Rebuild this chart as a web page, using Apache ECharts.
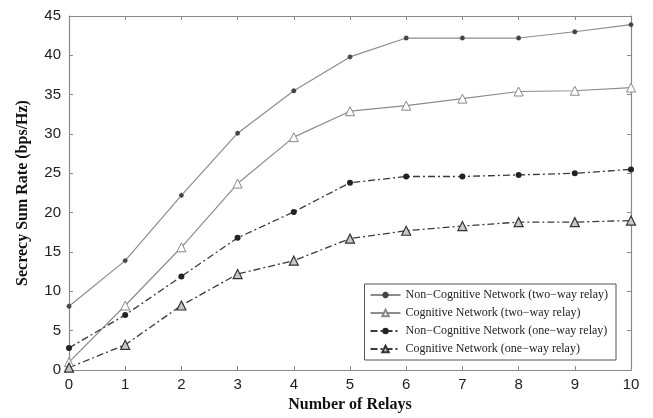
<!DOCTYPE html>
<html>
<head>
<meta charset="utf-8">
<script src="https://cdn.jsdelivr.net/npm/echarts@6/dist/echarts.min.js"></script>
<style>
  html, body { margin: 0; padding: 0; background: #fff; }
  #chart { width: 653px; height: 418px; }
</style>
</head>
<body>
<div id="chart"></div>
<script>
const relays = [0, 1, 2, 3, 4, 5, 6, 7, 8, 9, 10];
const nonCogTwoWay = [8.1, 13.9, 22.2, 30.1, 35.5, 39.8, 42.2, 42.2, 42.2, 43.0, 43.9];
const cogTwoWay = [1.0, 8.2, 15.6, 23.7, 29.6, 32.9, 33.6, 34.5, 35.4, 35.5, 35.9];
const nonCogOneWay = [2.8, 7.0, 11.9, 16.8, 20.1, 23.8, 24.6, 24.6, 24.8, 25.0, 25.5];
const cogOneWay = [0.3, 3.2, 8.2, 12.2, 13.9, 16.7, 17.7, 18.3, 18.8, 18.8, 19.0];
const seriesNames = [
    'Non\u2212Cognitive Network (two\u2212way relay)',
    'Cognitive Network (two\u2212way relay)',
    'Non\u2212Cognitive Network (one\u2212way relay)',
    'Cognitive Network (one\u2212way relay)'
];

const pairs = (ys) => relays.map((x, i) => [x, ys[i]]);
const dashDot = [7, 3, 2, 3];
const star = 'path://M0,5L10,5M5,0L5,10M1.5,1.5L8.5,8.5M8.5,1.5L1.5,8.5';
const axisGray = '#8a8a8a';
const serif = 'Liberation Serif, Times New Roman, serif';

const chart = echarts.init(document.getElementById('chart'));
chart.setOption({
    animation: false,
    textStyle: {fontFamily: 'Liberation Sans, Arial, sans-serif'},
    grid: {left: 69, right: 22, top: 16, bottom: 47},
    legend: {
        right: 37,
        top: 284,
        orient: 'vertical',
        itemGap: 4,
        itemWidth: 30,
        itemHeight: 8,
        padding: [4, 8, 4, 5],
        borderColor: '#555',
        borderWidth: 1,
        borderRadius: 0,
        backgroundColor: '#fff',
        textStyle: {fontFamily: serif, fontSize: 12, color: '#222', lineHeight: 14},
        data: seriesNames
    },
    xAxis: [{
        type: 'value',
        min: 0, max: 10, interval: 1,
        name: 'Number of Relays',
        nameLocation: 'middle',
        nameGap: 27,
        nameTextStyle: {fontFamily: serif, fontWeight: 'bold', fontSize: 16, color: '#111'},
        axisLine: {lineStyle: {color: axisGray, width: 1.2}},
        axisTick: {inside: true, length: 4, lineStyle: {color: axisGray}},
        axisLabel: {fontSize: 15, color: '#222', margin: 7},
        splitLine: {show: false}
    }, {
        type: 'value',
        position: 'top',
        min: 0, max: 10, interval: 1,
        axisLine: {onZero: false, lineStyle: {color: axisGray, width: 1.2}},
        axisTick: {inside: true, length: 4, lineStyle: {color: axisGray}},
        axisLabel: {show: false},
        splitLine: {show: false}
    }],
    yAxis: [{
        type: 'value',
        min: 0, max: 45, interval: 5,
        name: 'Secrecy Sum Rate (bps/Hz)',
        nameLocation: 'middle',
        nameGap: 38,
        nameTextStyle: {fontFamily: serif, fontWeight: 'bold', fontSize: 16, color: '#111'},
        axisLine: {show: true, onZero: false, lineStyle: {color: axisGray, width: 1.2}},
        axisTick: {show: true, inside: true, length: 4, lineStyle: {color: axisGray}},
        axisLabel: {fontSize: 15, color: '#222', margin: 8},
        splitLine: {show: false}
    }, {
        type: 'value',
        position: 'right',
        min: 0, max: 45, interval: 5,
        axisLine: {show: true, onZero: false, lineStyle: {color: axisGray, width: 1.2}},
        axisTick: {show: true, inside: true, length: 4, lineStyle: {color: axisGray}},
        axisLabel: {show: false},
        splitLine: {show: false}
    }],
    series: [{
        name: seriesNames[0],
        type: 'line',
        data: pairs(nonCogTwoWay),
        symbol: star,
        symbolSize: 5,
        lineStyle: {color: '#8c8c8c', width: 1.2},
        itemStyle: {color: '#8c8c8c', borderColor: '#444', borderWidth: 1.3}
    }, {
        name: seriesNames[1],
        type: 'line',
        data: pairs(cogTwoWay),
        symbol: 'triangle',
        symbolSize: 9,
        lineStyle: {color: '#8c8c8c', width: 1.2},
        itemStyle: {color: '#fff', borderColor: '#888', borderWidth: 1}
    }, {
        name: seriesNames[2],
        type: 'line',
        data: pairs(nonCogOneWay),
        symbol: 'circle',
        symbolSize: 6,
        lineStyle: {color: '#3a3a3a', width: 1.3, type: dashDot},
        itemStyle: {color: '#222', borderColor: '#222', borderWidth: 0}
    }, {
        name: seriesNames[3],
        type: 'line',
        data: pairs(cogOneWay),
        symbol: 'triangle',
        symbolSize: 9,
        lineStyle: {color: '#3a3a3a', width: 1.3, type: dashDot},
        itemStyle: {color: '#c8c8c8', borderColor: '#333', borderWidth: 1.2}
    }]
});
</script>
</body>
</html>
